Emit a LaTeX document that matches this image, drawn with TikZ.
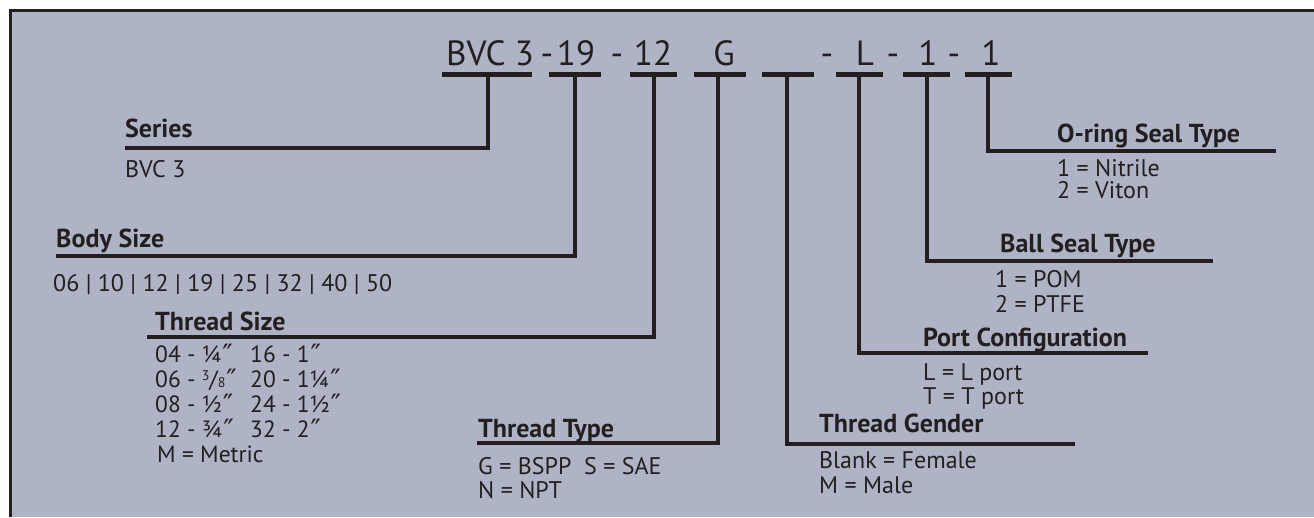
\documentclass[tikz,border=0pt]{standalone}
\usepackage{fontspec}
\setmainfont{PT Sans}
\newfontfamily\dvfont{DejaVu Sans}
\definecolor{bg}{RGB}{174,180,197}
\definecolor{ink}{RGB}{35,31,32}
\newcommand{\smallfr}[1]{{\fontsize{14}{14}\selectfont #1}}
\newcommand{\inchmk}{\kern1pt\smash{{\dvfont\fontsize{28}{28}\selectfont\raisebox{-2.5pt}{″}}}}
\begin{document}
\begin{tikzpicture}[x=1pt,y=-1pt,
  code/.style={anchor=base, inner sep=0, font=\fontsize{35}{35}\selectfont, text=ink},
  head/.style={anchor=base west, inner sep=0, font=\bfseries\fontsize{26}{26}\selectfont, text=ink},
  val/.style={anchor=base west, inner sep=0, font=\fontsize{24}{24}\selectfont, text=ink},
  tval/.style={val, font=\fontsize{23.5}{25}\selectfont},
  bar/.style={draw=ink, line width=5pt},
  conn/.style={draw=ink, line width=4.5pt, line join=miter}]
\useasboundingbox (0,0) rectangle (1314,517);
\fill[white] (0,0) rectangle (1314,517);
\fill[bg] (10,10) rectangle (1314,517);
\draw[ink, line width=3pt] (10.5,517) -- (10.5,10.5) -- (1314,10.5);
% code string
\node[code] (c1) at (490,65) {BVC 3};
\node[code] (d1) at (547,65) {-};
\node[code] (c2) at (576,65) {19};
\node[code] (d2) at (617,65) {-};
\node[code] (c3) at (653,65) {12};
\node[code] (c4) at (724,65) {G};
\node[code] (d4) at (827,65) {-};
\node[code] (c6) at (865,65) {L};
\node[code] (d6) at (893,65) {-};
\node[code] (c7) at (928,65) {1};
\node[code] (d7) at (954,65) {-};
\node[code] (c8) at (991,65) {1};
% bars
\coordinate (b1) at (488,74.5);
\coordinate (b2) at (575,74.5);
\coordinate (b3) at (654,74.5);
\coordinate (b4) at (718,74.5);
\coordinate (b5) at (787,74.5);
\coordinate (b6) at (859,74.5);
\coordinate (b7) at (927,74.5);
\coordinate (b8) at (988,74.5);
\draw[bar] (442,74.5) -- (532,74.5);
\draw[bar] (549,74.5) -- (601,74.5);
\draw[bar] (630,74.5) -- (677,74.5);
\draw[bar] (694,74.5) -- (746,74.5);
\draw[bar] (762,74.5) -- (814,74.5);
\draw[bar] (836,74.5) -- (883,74.5);
\draw[bar] (903,74.5) -- (950,74.5);
\draw[bar] (965,74.5) -- (1012,74.5);
% line ends
\coordinate (e1) at (125,148);
\coordinate (e2) at (56,256);
\coordinate (e3) at (147,337);
\coordinate (e4) at (477,443);
\coordinate (e5) at (1075,444);
\coordinate (e6) at (1148,353);
\coordinate (e7) at (1213,261);
\coordinate (e8) at (1276,151);
\draw[conn] (b1) |- (e1);
\draw[conn] (b2) |- (e2);
\draw[conn] (b3) |- (e3);
\draw[conn] (b4) |- (e4);
\draw[conn] (b5) |- (e5);
\draw[conn] (b6) |- (e6);
\draw[conn] (b7) |- (e7);
\draw[conn] (b8) |- (e8);
% Series
\node[head] (h1) at (125,137) {Series};
\node[val] (v1) at (125,177) {BVC 3};
% Body size
\node[head] (h2) at (56,247) {Body Size};
\node[val] (v2) at (53,291) {06 | 10 | 12 | 19 | 25 | 32 | 40 | 50};
% Thread size
\node[head] (h3) at (155,330) {Thread Size};
\node[tval] (t1) at (155,362) {\begin{tabular}[t]{@{}p{95pt}@{}l@{}}
04 - ¼\inchmk & 16 - 1\inchmk \\
06 - \smash{\raisebox{7pt}{\smallfr{3}}}/\smallfr{8}\inchmk & 20 - 1¼\inchmk \\
08 - ½\inchmk & 24 - 1½\inchmk \\
12 - ¾\inchmk & 32 - 2\inchmk \\
\multicolumn{2}{@{}l@{}}{\hspace*{2pt}M = Metric}
\end{tabular}};
% Thread type
\node[head] (h4) at (478,437) {Thread Type};
\node[val] (v4a) at (478,474) {G = BSPP\ \ S = SAE};
\node[val] (v4b) at (478,498) {N = NPT};
% Thread gender
\node[head] (h5) at (819,432) {Thread Gender};
\node[val] (v5a) at (819,468) {Blank = Female};
\node[val] (v5b) at (819,493) {M = Male};
% Port configuration
\node[head] (h6) at (923,346) {Port Configuration};
\node[val] (v6a) at (923,380) {L = L port};
\node[val] (v6b) at (923,404) {T = T port};
% Ball seal type
\node[head] (h7) at (1000,252) {Ball Seal Type};
\node[val] (v7a) at (995,287) {1 = POM};
\node[val] (v7b) at (995,312) {2 = PTFE};
% O-ring seal type
\node[head] (h8) at (1057,142) {O-ring Seal Type};
\node[val] (v8a) at (1057,176) {1 = Nitrile};
\node[val] (v8b) at (1057,198) {2 = Viton};
\end{tikzpicture}
\end{document}
